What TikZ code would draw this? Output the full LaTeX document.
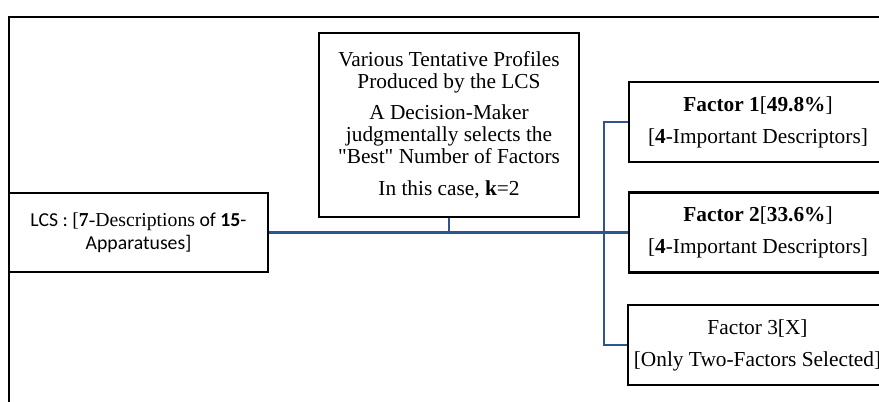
\documentclass[tikz,border=0pt]{standalone}
\usepackage{fontspec}
\setmainfont{Liberation Serif}
\newfontfamily\calfont{Carlito}
\newfontfamily\qfont{Liberation Serif}[Ligatures=TeXOff]
\newcommand{\sq}{{\qfont\symbol{34}}}
\definecolor{busblue}{RGB}{47,84,150}
\begin{document}
\begin{tikzpicture}[x=0.75pt,y=-0.75pt,
  box/.style={draw=black,line width=1.6pt,align=center,inner sep=0pt,
    font=\fontsize{16}{16.5}\selectfont},
  link/.style={draw=busblue,line width=1.8pt}]
\useasboundingbox (0,0) rectangle (879,402);
\clip (0,0) rectangle (879,402);
\draw[line width=1.5pt] (9,430) -- (9,17) -- (900,17);
\node[box,font=\fontsize{14.8}{17}\selectfont,minimum width=194.25pt,minimum height=59.25pt] (lcs) at (138.5,232.5)
  {{\calfont LCS : }[\textbf{7}-Descriptions{\calfont{} of \textbf{15}-}\\{\calfont Apparatuses]}};
\node[box,minimum width=195pt,minimum height=138pt] (mid) at (449,125)
  {Various Tentative Profiles\\Produced by the LCS\\[7.3pt]A Decision-Maker\\judgmentally selects the\\\sq Best\sq{} Number of Factors\\[7.3pt]In this case, \textbf{k}=2};
\node[box,minimum width=193.5pt,minimum height=60pt] (f1) at (758,122)
  {\textbf{Factor 1}[\textbf{49.8\%}]\\[7.5pt][\textbf{4}-Important Descriptors]};
\node[box,minimum width=193.5pt,minimum height=60pt] (f2) at (758,232.5)
  {\textbf{Factor 2}[\textbf{33.6\%}]\\[7.5pt][\textbf{4}-Important Descriptors]};
\node[box,minimum width=194.25pt,minimum height=60pt] (f3) at (757.5,345)
  {Factor 3[X]\\[7.5pt][Only Two-Factors Selected]};
\coordinate (bus) at (604,232);
\draw[link] (lcs.east) -- (f2.west);
\draw[link] (mid.south) -- (mid.south |- lcs.east);
\draw[link] (f1.west) -- (bus |- f1.west) -- (bus |- f3.west) -- (f3.west);
\end{tikzpicture}
\end{document}
